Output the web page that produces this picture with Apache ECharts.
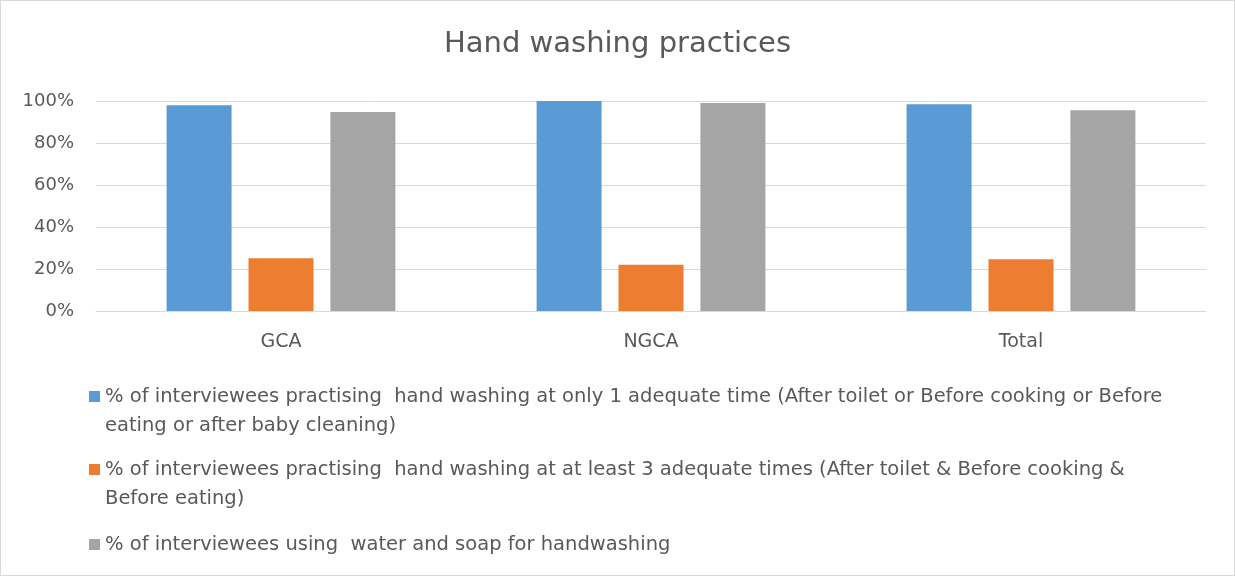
<!DOCTYPE html>
<html>
<head>
<meta charset="utf-8">
<script src="https://cdn.jsdelivr.net/npm/echarts@6/dist/echarts.min.js"></script>
<style>
html,body{margin:0;padding:0;background:#fff;}
#c{width:1235px;height:576px;box-sizing:border-box;border:1px solid #d9d9d9;}
</style>
</head>
<body>
<div id="c"></div>
<script>
const titleText = "Hand washing practices";
const categories = ["GCA", "NGCA", "Total"];
const seriesNames = [
  "% of interviewees practising  hand washing at only 1 adequate time (After toilet or Before cooking or Before eating or after baby cleaning)",
  "% of interviewees practising  hand washing at at least 3 adequate times (After toilet & Before cooking & Before eating)",
  "% of interviewees using  water and soap for handwashing"
];
const legendLines = [
  "% of interviewees practising  hand washing at only 1 adequate time (After toilet or Before cooking or Before\neating or after baby cleaning)",
  "% of interviewees practising  hand washing at at least 3 adequate times (After toilet & Before cooking &\nBefore eating)",
  "% of interviewees using  water and soap for handwashing"
];
const onceValues = [98.0, 100, 98.4];
const threeTimesValues = [25.1, 22.0, 24.6];
const soapValues = [94.8, 99.0, 95.6];
const colors = ["#5b9bd5", "#ed7d31", "#a5a5a5"];

const font = "'DejaVu Sans', sans-serif";
const chart = echarts.init(document.getElementById('c'), null, {renderer: 'canvas'});
const allValues = [onceValues, threeTimesValues, soapValues];
// legend marker: 11x11 square near the top of an 11x58 box (beside the first of two text lines)
const topSquare = 'path://M0 9 L11 9 L11 20 L0 20 Z M0 0 L0 0 M0 58 L0 58';
const legendText = {color: '#595959', fontSize: 19.5, lineHeight: 29, fontFamily: font};
const fmt = function (name) { return legendLines[seriesNames.indexOf(name)]; };
chart.setOption({
  animation: false,
  color: colors,
  textStyle: {fontFamily: font},
  title: {
    text: titleText, left: 'center', top: 24,
    textStyle: {fontFamily: font, fontSize: 29, fontWeight: 'normal', color: '#595959'}
  },
  grid: {left: 95, right: 28, top: 100, height: 210, containLabel: false},
  xAxis: {
    type: 'category', data: categories,
    axisLine: {lineStyle: {color: '#d9d9d9'}},
    axisTick: {show: false},
    axisLabel: {color: '#595959', fontSize: 19, margin: 22, fontFamily: font}
  },
  yAxis: {
    type: 'value', min: 0, max: 100, interval: 20,
    axisLine: {show: false}, axisTick: {show: false},
    splitLine: {lineStyle: {color: '#d9d9d9'}},
    axisLabel: {formatter: '{value}%', color: '#595959', fontSize: 18, margin: 22, fontFamily: font}
  },
  legend: [{
    orient: 'vertical', left: 88, top: 381, padding: 0,
    itemWidth: 11, itemHeight: 58, itemGap: 15,
    symbolKeepAspect: false,
    data: seriesNames.slice(0, 2).map(n => ({name: n, icon: topSquare})),
    formatter: fmt,
    textStyle: legendText
  }, {
    orient: 'vertical', left: 88, top: 529, padding: 0,
    itemWidth: 11, itemHeight: 11,
    icon: 'rect',
    data: seriesNames.slice(2),
    formatter: fmt,
    textStyle: legendText
  }],
  series: seriesNames.map((n, i) => ({
    name: n, type: 'bar', data: allValues[i],
    barWidth: 65, barGap: '26%',
    itemStyle: {color: colors[i]}
  }))
});
</script>
</body>
</html>
